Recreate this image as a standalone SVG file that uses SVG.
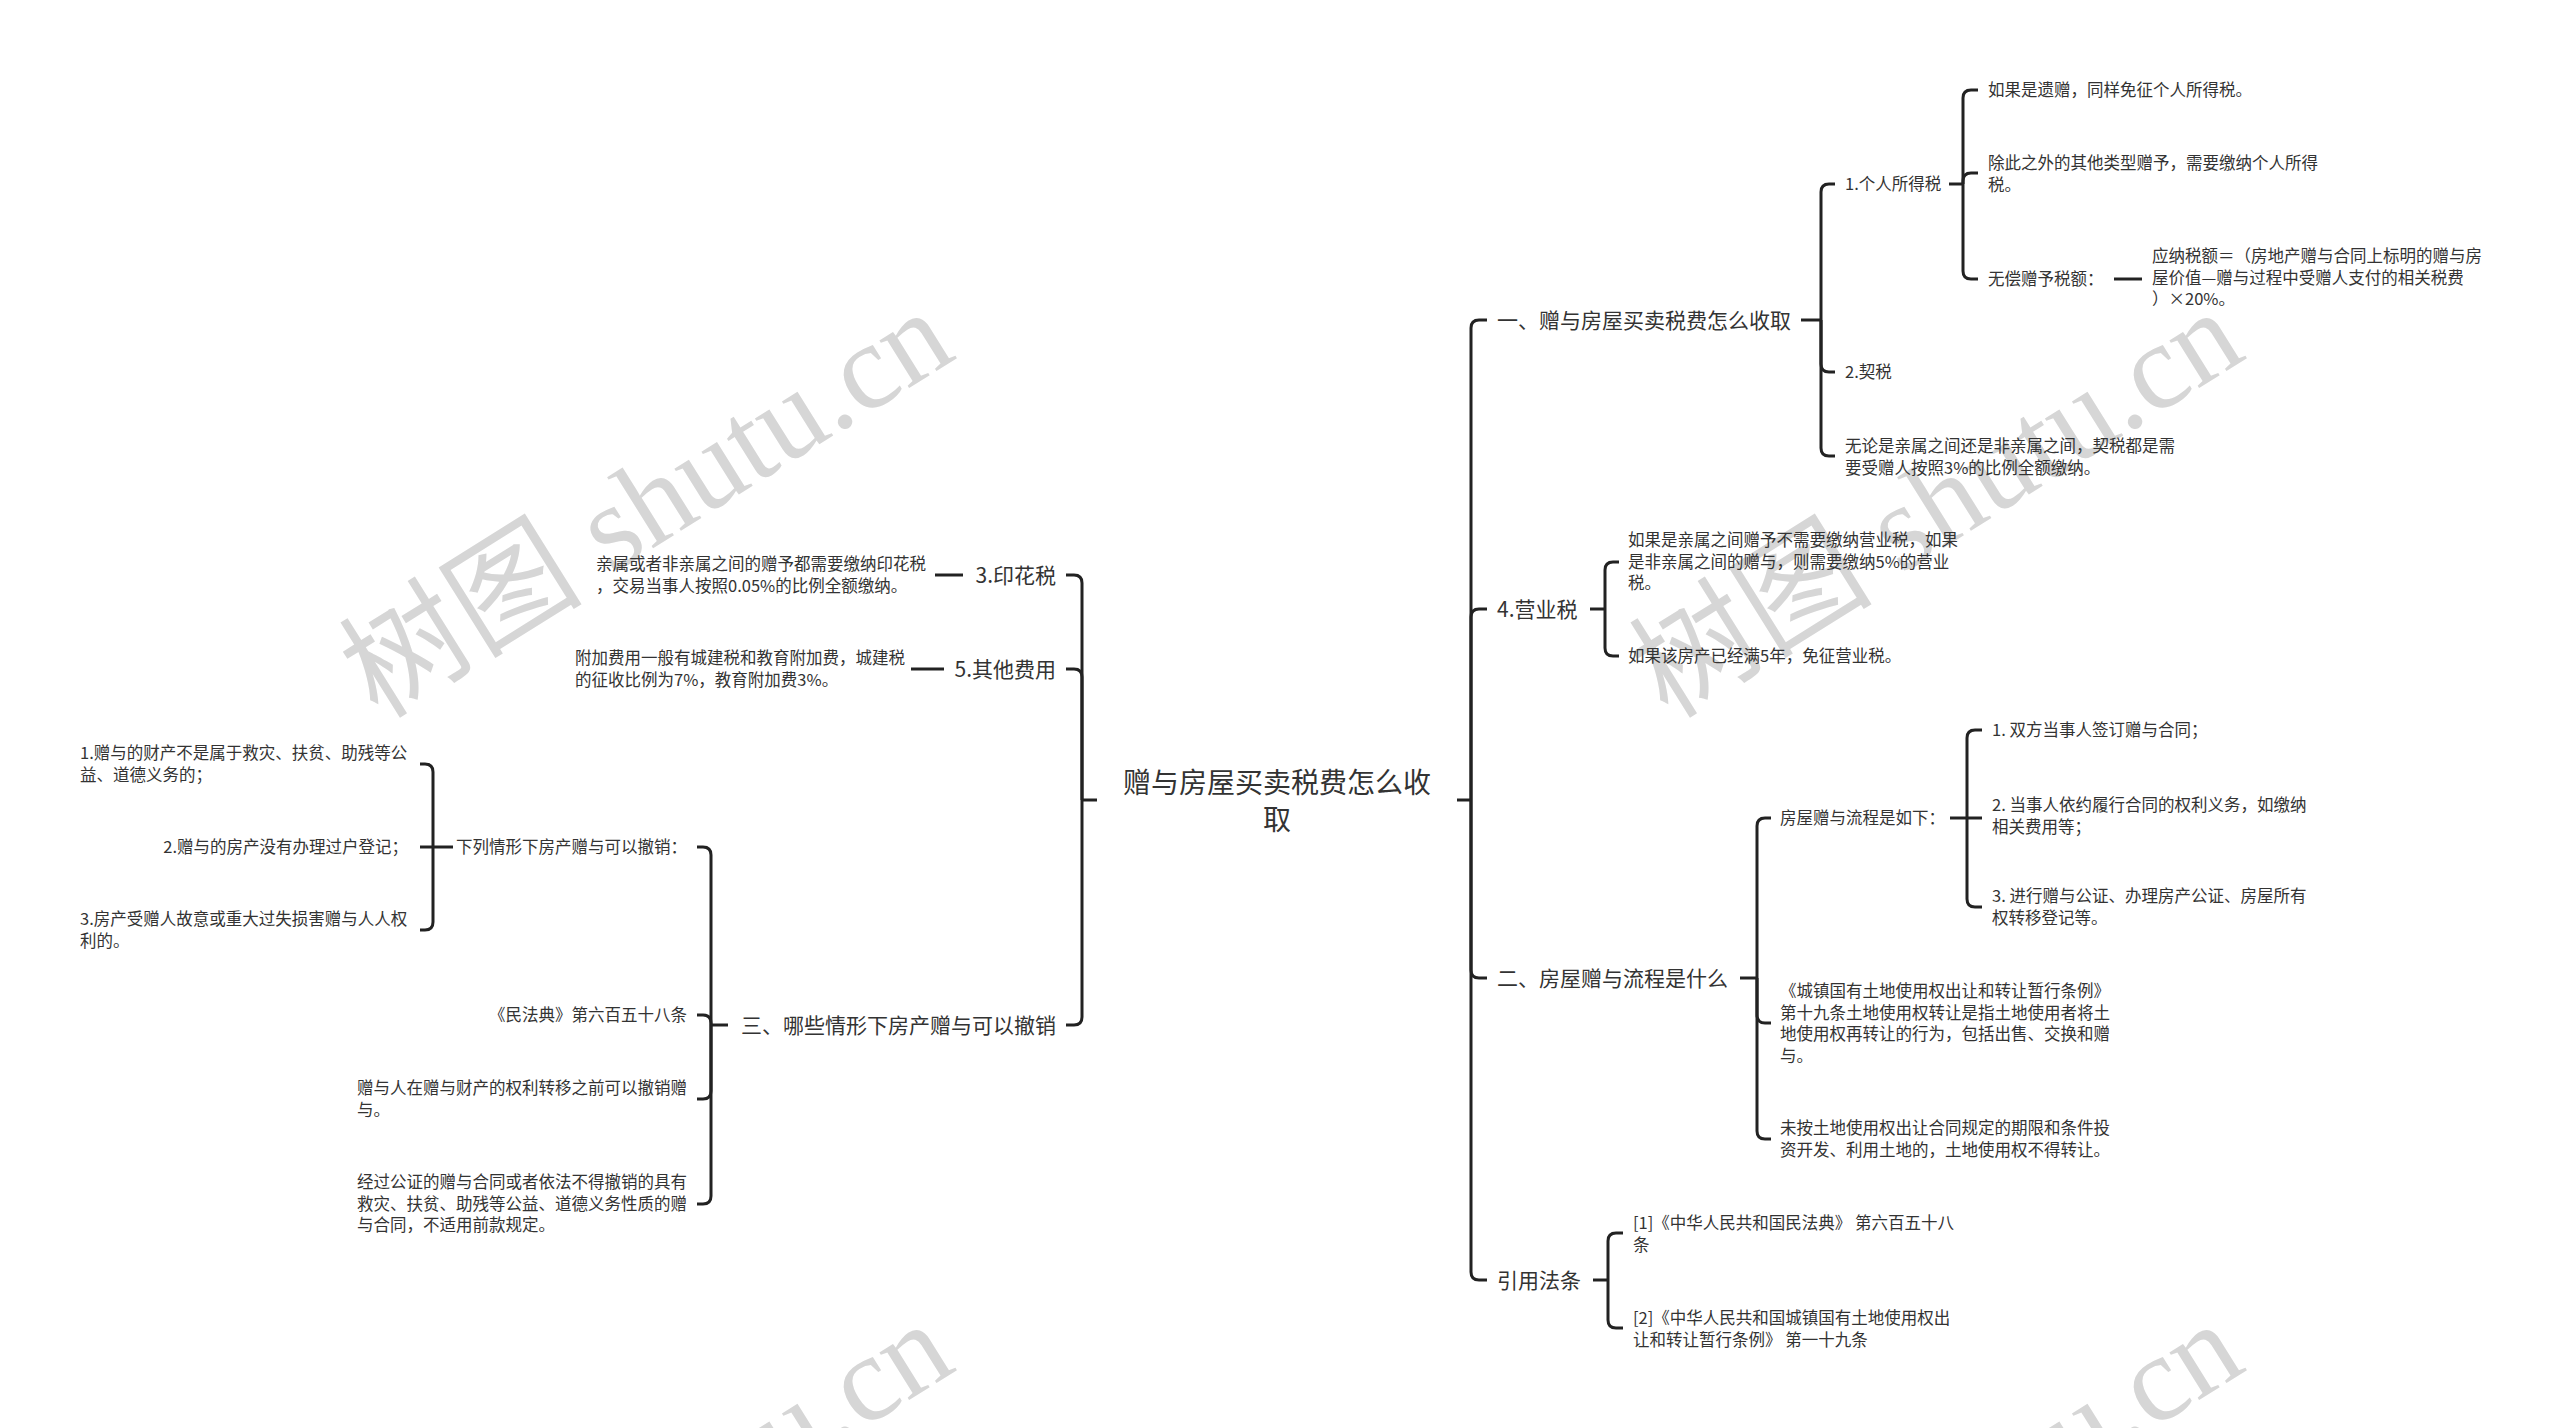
<svg xmlns="http://www.w3.org/2000/svg" width="2560" height="1428" viewBox="0 0 2560 1428">
<style>
.wm{font-size:122px;fill:#d6d6d6}
.wmc{font-family:"Noto Sans CJK SC","Noto Sans",sans-serif}
.wms{font-family:"Liberation Serif",serif}
text.t{font-family:"Noto Sans CJK SC","Noto Sans",sans-serif;fill:#333}
.root{font-size:28px}
.l1{font-size:21px}
.s{font-size:16.5px}
.e{text-anchor:end}
#connectors path{fill:none;stroke:#222;stroke-width:3;stroke-linecap:butt}
</style>
<rect width="2560" height="1428" fill="#fff"/>
<g id="watermarks">
<text class="wm" transform="rotate(-32 378 720)" x="378" y="720"><tspan class="wmc">树图</tspan><tspan class="wms"> shutu.cn</tspan></text>
<text class="wm" transform="rotate(-32 1668 720)" x="1668" y="720"><tspan class="wmc">树图</tspan><tspan class="wms"> shutu.cn</tspan></text>
<text class="wm" transform="rotate(-32 378 1732)" x="378" y="1732"><tspan class="wmc">树图</tspan><tspan class="wms"> shutu.cn</tspan></text>
<text class="wm" transform="rotate(-32 1668 1732)" x="1668" y="1732"><tspan class="wmc">树图</tspan><tspan class="wms"> shutu.cn</tspan></text>
</g>
<g id="connectors">
<path d="M1457,800 H1471"/>
<path d="M1471,800 V328 Q1471,320 1479,320 H1487"/>
<path d="M1471,800 V617 Q1471,609 1479,609 H1487"/>
<path d="M1471,800 V970 Q1471,978 1479,978 H1487"/>
<path d="M1471,800 V1272 Q1471,1280 1479,1280 H1487"/>
<path d="M1801,320 H1821"/>
<path d="M1821,320 V192 Q1821,184 1829,184 H1835"/>
<path d="M1821,320 V364 Q1821,372 1829,372 H1835"/>
<path d="M1821,320 V448 Q1821,456 1829,456 H1835"/>
<path d="M1949,184 H1963"/>
<path d="M1963,184 V98 Q1963,90 1971,90 H1978"/>
<path d="M1963,184 V181 Q1963,173 1971,173 H1978"/>
<path d="M1963,184 V271 Q1963,279 1971,279 H1978"/>
<path d="M2114,279 H2142"/>
<path d="M1590,609 H1605"/>
<path d="M1605,609 V570 Q1605,562 1613,562 H1619"/>
<path d="M1605,609 V648 Q1605,656 1613,656 H1619"/>
<path d="M1740,978 H1757"/>
<path d="M1757,978 V826 Q1757,818 1765,818 H1771"/>
<path d="M1757,978 V1015 Q1757,1023 1765,1023 H1771"/>
<path d="M1757,978 V1131 Q1757,1139 1765,1139 H1771"/>
<path d="M1950,818 H1967"/>
<path d="M1967,818 V738 Q1967,730 1975,730 H1982"/>
<path d="M1967,818 H1982"/>
<path d="M1967,818 V899 Q1967,907 1975,907 H1982"/>
<path d="M1593,1280 H1608"/>
<path d="M1608,1280 V1241 Q1608,1233 1616,1233 H1623"/>
<path d="M1608,1280 V1320 Q1608,1328 1616,1328 H1623"/>
<path d="M1097,800 H1082"/>
<path d="M1082,800 V583 Q1082,575 1074,575 H1066"/>
<path d="M1082,800 V677 Q1082,669 1074,669 H1066"/>
<path d="M1082,800 V1017 Q1082,1025 1074,1025 H1066"/>
<path d="M963,575 H935"/>
<path d="M944,669 H911"/>
<path d="M728,1025 H711"/>
<path d="M711,1025 V855 Q711,847 703,847 H697"/>
<path d="M711,1025 V1023 Q711,1015 703,1015 H697"/>
<path d="M711,1025 V1091 Q711,1099 703,1099 H697"/>
<path d="M711,1025 V1196 Q711,1204 703,1204 H697"/>
<path d="M453,847 H433"/>
<path d="M433,847 V772 Q433,764 425,764 H420"/>
<path d="M433,847 H420"/>
<path d="M433,847 V922 Q433,930 425,930 H420"/>
</g>
<g id="root"><text class="t root" text-anchor="middle"><tspan x="1277" y="792.5">赠与房屋买卖税费怎么收</tspan><tspan x="1277" y="829.5">取</tspan></text></g>
<g id="n-a"><text class="t l1" x="1497" y="328">一、赠与房屋买卖税费怎么收取</text></g>
<g id="n-a1"><text class="t s" x="1845" y="190">1.个人所得税</text></g>
<g id="n-a1a"><text class="t s" x="1988" y="96">如果是遗赠，同样免征个人所得税。</text></g>
<g id="n-a1b"><text class="t s"><tspan x="1988" y="169">除此之外的其他类型赠予，需要缴纳个人所得</tspan><tspan x="1988" y="190.5">税。</tspan></text></g>
<g id="n-a1c"><text class="t s" x="1988" y="285">无偿赠予税额：</text></g>
<g id="n-a1c1"><text class="t s"><tspan x="2152" y="262">应纳税额＝（房地产赠与合同上标明的赠与房</tspan><tspan x="2152" y="283.5">屋价值—赠与过程中受赠人支付的相关税费</tspan><tspan x="2152" y="305">）×20%。</tspan></text></g>
<g id="n-a2"><text class="t s" x="1845" y="378">2.契税</text></g>
<g id="n-a3"><text class="t s"><tspan x="1845" y="452">无论是亲属之间还是非亲属之间，契税都是需</tspan><tspan x="1845" y="473.5">要受赠人按照3%的比例全额缴纳。</tspan></text></g>
<g id="n-b"><text class="t l1" x="1497" y="617">4.营业税</text></g>
<g id="n-b1"><text class="t s"><tspan x="1628" y="546">如果是亲属之间赠予不需要缴纳营业税，如果</tspan><tspan x="1628" y="567.5">是非亲属之间的赠与，则需要缴纳5%的营业</tspan><tspan x="1628" y="589">税。</tspan></text></g>
<g id="n-b2"><text class="t s" x="1628" y="662">如果该房产已经满5年，免征营业税。</text></g>
<g id="n-c"><text class="t l1" x="1497" y="986">二、房屋赠与流程是什么</text></g>
<g id="n-c1"><text class="t s" x="1780" y="824">房屋赠与流程是如下：</text></g>
<g id="n-c1a"><text class="t s" x="1992" y="736">1. 双方当事人签订赠与合同；</text></g>
<g id="n-c1b"><text class="t s"><tspan x="1992" y="811">2. 当事人依约履行合同的权利义务，如缴纳</tspan><tspan x="1992" y="832.5">相关费用等；</tspan></text></g>
<g id="n-c1c"><text class="t s"><tspan x="1992" y="902">3. 进行赠与公证、办理房产公证、房屋所有</tspan><tspan x="1992" y="923.5">权转移登记等。</tspan></text></g>
<g id="n-c2"><text class="t s"><tspan x="1780" y="997">《城镇国有土地使用权出让和转让暂行条例》</tspan><tspan x="1780" y="1018.5">第十九条土地使用权转让是指土地使用者将土</tspan><tspan x="1780" y="1040">地使用权再转让的行为，包括出售、交换和赠</tspan><tspan x="1780" y="1061.5">与。</tspan></text></g>
<g id="n-c3"><text class="t s"><tspan x="1780" y="1134">未按土地使用权出让合同规定的期限和条件投</tspan><tspan x="1780" y="1155.5">资开发、利用土地的，土地使用权不得转让。</tspan></text></g>
<g id="n-d"><text class="t l1" x="1497" y="1288">引用法条</text></g>
<g id="n-d1"><text class="t s"><tspan x="1633" y="1229">[1]《中华人民共和国民法典》 第六百五十八</tspan><tspan x="1633" y="1250.5">条</tspan></text></g>
<g id="n-d2"><text class="t s"><tspan x="1633" y="1324">[2]《中华人民共和国城镇国有土地使用权出</tspan><tspan x="1633" y="1345.5">让和转让暂行条例》 第一十九条</tspan></text></g>
<g id="n-e"><text class="t l1 e" x="1056" y="583">3.印花税</text></g>
<g id="n-e1"><text class="t s"><tspan x="596" y="570">亲属或者非亲属之间的赠予都需要缴纳印花税</tspan><tspan x="596" y="591.5">，交易当事人按照0.05%的比例全额缴纳。</tspan></text></g>
<g id="n-f"><text class="t l1 e" x="1056" y="677">5.其他费用</text></g>
<g id="n-f1"><text class="t s"><tspan x="575" y="664">附加费用一般有城建税和教育附加费，城建税</tspan><tspan x="575" y="685.5">的征收比例为7%，教育附加费3%。</tspan></text></g>
<g id="n-g"><text class="t l1 e" x="1056" y="1033">三、哪些情形下房产赠与可以撤销</text></g>
<g id="n-g1"><text class="t s e" x="687" y="853">下列情形下房产赠与可以撤销：</text></g>
<g id="n-g1a"><text class="t s"><tspan x="80" y="759">1.赠与的财产不是属于救灾、扶贫、助残等公</tspan><tspan x="80" y="780.5">益、道德义务的；</tspan></text></g>
<g id="n-g1b"><text class="t s e" x="408" y="853">2.赠与的房产没有办理过户登记；</text></g>
<g id="n-g1c"><text class="t s"><tspan x="80" y="925">3.房产受赠人故意或重大过失损害赠与人人权</tspan><tspan x="80" y="946.5">利的。</tspan></text></g>
<g id="n-g2"><text class="t s e" x="687" y="1021">《民法典》第六百五十八条</text></g>
<g id="n-g3"><text class="t s"><tspan x="357" y="1094">赠与人在赠与财产的权利转移之前可以撤销赠</tspan><tspan x="357" y="1115.5">与。</tspan></text></g>
<g id="n-g4"><text class="t s"><tspan x="357" y="1188">经过公证的赠与合同或者依法不得撤销的具有</tspan><tspan x="357" y="1209.5">救灾、扶贫、助残等公益、道德义务性质的赠</tspan><tspan x="357" y="1231">与合同，不适用前款规定。</tspan></text></g>
</svg>
